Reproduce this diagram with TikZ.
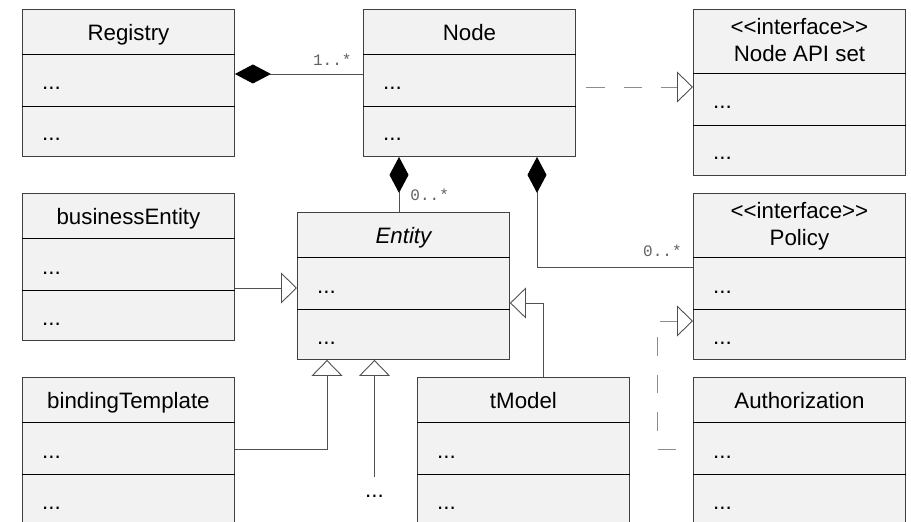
\documentclass[tikz,border=0pt]{standalone}
\usepackage{fontspec}
\setmainfont{Liberation Sans}
\newfontfamily\multfont{Liberation Mono}
\usetikzlibrary{arrows.meta}

\definecolor{classfill}{HTML}{F2F2F2}
\definecolor{classline}{HTML}{404040}
\definecolor{linkline}{HTML}{505050}
\definecolor{dashline}{HTML}{8C8C8C}
\newcommand{\classsize}{\fontsize{22.3bp}{26bp}\selectfont}
\newcommand{\stereo}[1]{<\kern0pt<#1>\kern0pt>}

\tikzset{
  classbox/.style={draw=classline, fill=classfill, anchor=north west,
    minimum width=212bp, inner sep=0pt, line width=0.9bp},
  divider/.style={draw=black, line width=0.9bp},
  classname/.style={font=\classsize, anchor=base, inner sep=0pt},
  members/.style={font=\classsize, anchor=base west, inner sep=0pt},
  mult/.style={font=\multfont\fontsize{16bp}{18bp}\selectfont, text=black!62, inner sep=0pt},
  composition/.style={draw=linkline, line width=0.9bp,
    {Diamond[black, length=36bp, width=19bp]}-},
  inherit/.style={draw=linkline, line width=0.9bp,
    -{Triangle[linkline, open, length=16bp, width=31bp]}},
  realize/.style={inherit, draw=dashline, dash pattern=on 18.5bp off 19bp},
}

% one class: name, x, y, header height
\newcommand{\umlclass}[4]{%
  \node[classbox, minimum height={#4bp+102bp}] (#1) at (#2,#3) {};
  \draw[divider] ([yshift=-#4bp]#1.north west) -- ([yshift=-#4bp]#1.north east);
  \draw[divider] ([yshift=-#4bp-52bp]#1.north west) -- ([yshift=-#4bp-52bp]#1.north east);
  \node[members] (#1-attr) at ([xshift=20bp,yshift=-#4bp-36bp]#1.north west) {...};
  \node[members] (#1-oper) at ([xshift=20bp,yshift=-#4bp-87bp]#1.north west) {...};
}

\begin{document}
\begin{tikzpicture}[x=1bp, y=-1bp]
  \useasboundingbox (0,0) rectangle (911,522);
  \clip (0,0) rectangle (911,522);

  % classes
  \foreach \n/\x/\y/\h in {registry/22/9/45, nodeclass/363/9/45, nodeapi/693/9/64,
      busentity/22/193/45, entity/297/212/45, policy/693/193/64,
      bindtempl/22/377/45, tmodel/417/377/45, authz/693/377/45}
  \umlclass{\n}{\x}{\y}{\h};

  % names
  \foreach \n/\t in {registry/Registry, nodeclass/Node, busentity/businessEntity,
      bindtempl/bindingTemplate, tmodel/tModel, authz/Authorization}
  \node[classname] (\n-name) at ([yshift=-31.5bp]\n.north) {\t};
  \node[classname] (entity-name) at ([yshift=-31.5bp]entity.north) {\itshape Entity};

  \foreach \n/\t in {nodeapi/Node API set, policy/Policy} {
    \node[classname] (\n-stereo) at ([yshift=-26bp]\n.north) {\stereo{interface}};
    \node[classname] (\n-name) at ([yshift=-53bp]\n.north) {\t};
  }

  % composition
  \draw[composition] ([yshift=-65bp]registry.north east) -- ([yshift=-65bp]nodeclass.north west)
    node[mult, pos=0.76, above=8bp] {1..*};

  \coordinate (entity-top) at ([xshift=102bp]entity.north west);
  \draw[composition] (entity-top |- nodeclass.south) -- (entity-top)
    node[mult, pos=0.69, right=11bp] {0..*};

  \draw[composition] ([xshift=174bp]nodeclass.south west) |- ([yshift=-74bp]policy.north west)
    node[mult, pos=0.965, anchor=south east, yshift=10bp] {0..*};

  % generalization
  \coordinate (busentity-out) at ([yshift=-95bp]busentity.north east);
  \draw[inherit] (busentity-out) -- (busentity-out -| entity.west);

  \coordinate (bindtempl-out) at ([yshift=-72bp]bindtempl.north east);
  \draw[inherit] (bindtempl-out) -| ([xshift=30bp]entity.south west);

  \node[members, anchor=base, text height=20bp] (more) at (374.5,497) {...};
  \draw[inherit] (more.north) -- (more.north |- entity.south);

  \draw[inherit] ([xshift=126bp]tmodel.north west) |- ([yshift=-91bp]entity.north east);

  % realization
  \draw[realize, dash phase=27bp] ([yshift=-78bp]nodeclass.north east) -- ([yshift=-78bp]nodeapi.north west);

  \coordinate (authz-out) at ([yshift=-72bp]authz.north west);
  \coordinate (policy-in) at ([yshift=-128bp]policy.north west);
  \draw[realize, dash phase=20.5bp] (authz-out) -| ([xshift=-36bp]policy-in) -- (policy-in);
\end{tikzpicture}
\end{document}
